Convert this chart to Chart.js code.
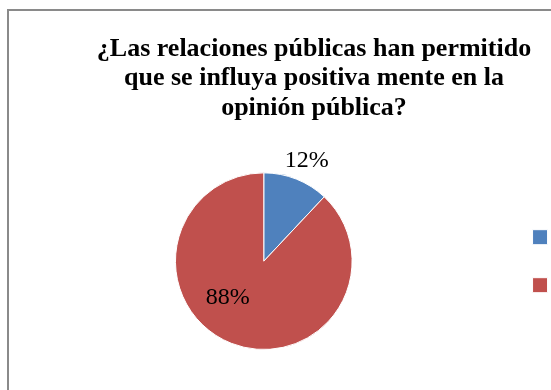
<!DOCTYPE html>
<html>
<head>
<meta charset="utf-8">
<script src="https://cdn.jsdelivr.net/npm/chart.js@4/dist/chart.umd.min.js"></script>
<style>
  html, body { margin: 0; padding: 0; background: #fff; overflow: hidden; }
  body { width: 551px; height: 390px; position: relative; }
  #frame {
    position: absolute; left: 7px; top: 9px;
    width: 640px; height: 420px;
    border: 2px solid #8a8a8a; box-sizing: border-box;
  }
  #wrap { position: absolute; left: 0; top: 0; width: 630px; height: 410px; }
</style>
</head>
<body>
<div id="frame"></div>
<div id="wrap"><canvas id="chart"></canvas></div>
<script>
// Survey answers
const categories = ['Sí', 'No'];
const shares = [12, 88];
const sliceColors = ['#4F81BD', '#C0504D'];
const titleLines = [
  '¿Las relaciones públicas han permitido',
  'que se influya positiva mente en la',
  'opinión pública?'
];

// Where each percentage label sits: multiple of the radius, and a turn in degrees
const labelPlacement = [
  { r: 1.24, turn: 1.5 },
  { r: 0.58, turn: 23 }
];

const serif = '"Liberation Serif", "Times New Roman", serif';

const percentLabels = {
  id: 'percentLabels',
  afterDatasetsDraw(chart) {
    const { ctx } = chart;
    const meta = chart.getDatasetMeta(0);
    const values = chart.data.datasets[0].data;
    const total = values.reduce((a, b) => a + b, 0);
    ctx.save();
    ctx.font = '24px ' + serif;
    ctx.fillStyle = '#000';
    ctx.textAlign = 'center';
    ctx.textBaseline = 'middle';
    meta.data.forEach((arc, i) => {
      const p = arc.getProps(['x', 'y', 'startAngle', 'endAngle', 'outerRadius'], true);
      const place = labelPlacement[i];
      const mid = (p.startAngle + p.endAngle) / 2 + place.turn * Math.PI / 180;
      const rr = p.outerRadius * place.r;
      const pct = Math.round(values[i] / total * 100) + '%';
      ctx.fillText(pct, p.x + Math.cos(mid) * rr, p.y + Math.sin(mid) * rr);
    });
    ctx.restore();
  }
};

new Chart(document.getElementById('chart'), {
  type: 'pie',
  data: {
    labels: categories,
    datasets: [{
      data: shares,
      backgroundColor: sliceColors,
      borderColor: '#ffffff',
      borderWidth: 1
    }]
  },
  options: {
    responsive: true,
    maintainAspectRatio: false,
    animation: false,
    layout: { padding: { left: 5, right: 7, top: 0, bottom: 60 } },
    plugins: {
      title: {
        display: true,
        text: titleLines,
        color: '#000',
        font: { family: serif, size: 26, weight: 'bold', lineHeight: 1.12 },
        padding: { top: 35, bottom: 50 }
      },
      legend: {
        position: 'right',
        fullSize: false,
        labels: {
          boxWidth: 15,
          boxHeight: 15,
          padding: 10,
          color: '#000',
          font: { family: serif, size: 38 }
        }
      },
      tooltip: { enabled: false }
    }
  },
  plugins: [percentLabels]
});
</script>
</body>
</html>
